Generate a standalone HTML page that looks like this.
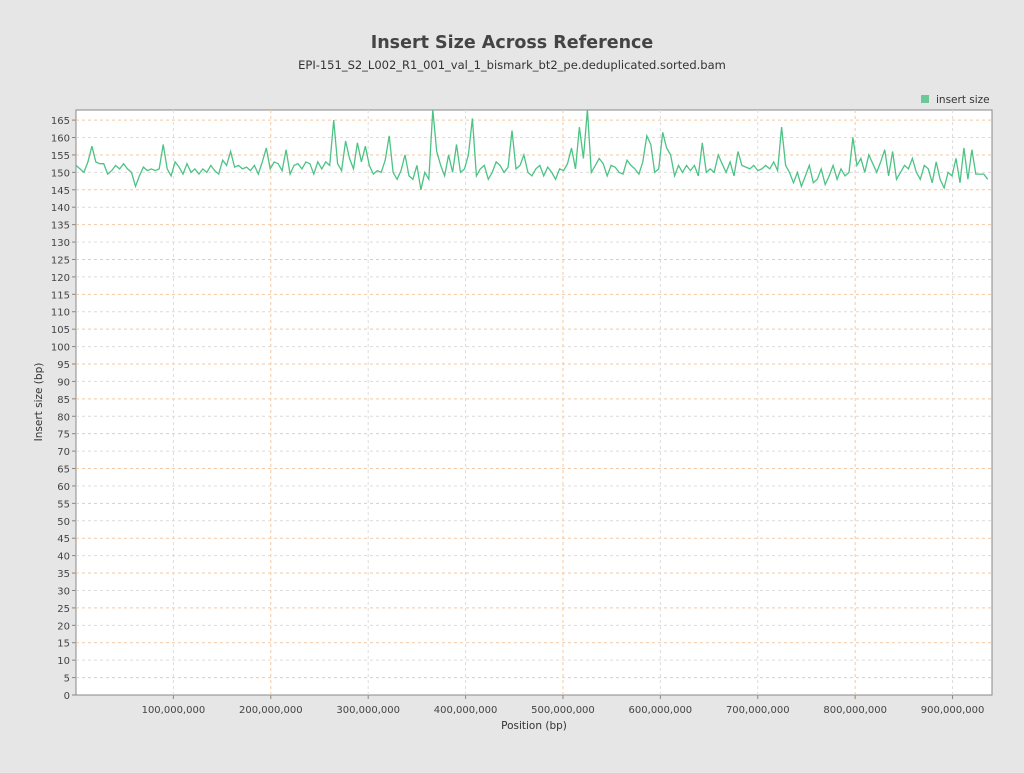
<!DOCTYPE html>
<html><head><meta charset="utf-8"><style>
body{margin:0;background:#e6e6e6;font-family:"Liberation Sans","DejaVu Sans",sans-serif;}
svg text{font-family:"DejaVu Sans","Liberation Sans",sans-serif;}
</style></head><body>
<svg id="chart" width="1024" height="768" xmlns="http://www.w3.org/2000/svg">
<defs><clipPath id="pc"><rect x="76" y="110" width="916" height="585"/></clipPath></defs>
<rect width="1024" height="768" fill="#e6e6e6"/>
<text x="512" y="48" text-anchor="middle" font-size="17.5" font-weight="bold" fill="#444">Insert Size Across Reference</text>
<text x="512" y="69" text-anchor="middle" font-size="11.5" fill="#333">EPI-151_S2_L002_R1_001_val_1_bismark_bt2_pe.deduplicated.sorted.bam</text>
<rect x="76" y="110" width="916" height="585" fill="#fff" stroke="#888"/>
<g id="grid"></g>
<g id="axes"></g>
<polyline id="line" fill="none" stroke="#4cc384" stroke-width="1.3" clip-path="url(#pc)"/>
<rect x="921" y="95" width="8" height="8" fill="#6cc89a"/>
<text x="936" y="103" font-size="10.5" fill="#333">insert size</text>
<text x="534" y="729" text-anchor="middle" font-size="10.5" fill="#333">Position (bp)</text>
<text transform="translate(42,402) rotate(-90)" text-anchor="middle" font-size="10.5" fill="#333">Insert size (bp)</text>
</svg>
<script>
const binSizeBp = 4070000;
const insertSizes = [
152,151,150,153,157.5,153,152.5,152.5,149.5,150.5,
152,151,152.5,151,150,146,149,151.5,150.5,151,
150.5,151,158,151,149,153,151.5,149.5,152.5,150,
151,149.5,151,150,152,150.5,149.5,153.5,152,156,
151.5,152,151,151.5,150.5,152,149.5,153,157,151,
153,152.5,150.5,156.5,149.5,152,152.5,151,153,152.5,
149.5,153,151,153,152,165,152.5,150.5,159,154,
151,158.5,153,157.5,152,149.5,150.5,150,153.5,160.5,
150,148,150.5,155,149,148,152,145,150,148,
168,156,152,149,155,150,158,150,151,155,
165.5,149,151,152,148,150,153,152,150,151.5,
162,151,152,155,150,149,151,152,149,151.5,
150,148,151,150.5,152.5,157,151,163,154,168,
150,152,154,152.5,149,152,151.5,150,149.5,153.5,
152,151,149.5,153,160.5,158,150,151,161.5,157,
155,149,152,150,152,150.5,152,149,158.5,150,
151,150,155,152.5,150,153,149,156,152,151.5,
151,152,150.5,151,152,151,153,150.5,163,152,
150,147,150,146,149,152,147,148,151,146.5,
149,152,148,151,149,150,160,152,154,150,
155,152.5,150,153,156.5,149,156,148,150,152,
151,154,150,148,152,151,147,153,148,145.5,
150,149,154,147,157,148,156.5,149.5,149.5,149.5,148];
const yTicks = [0,5,10,15,20,25,30,35,40,45,50,55,60,65,70,75,80,85,90,95,100,105,110,115,120,125,130,135,140,145,150,155,160,165];
const xTicks = [100000000,200000000,300000000,400000000,500000000,600000000,700000000,800000000,900000000];
const xTickLabels = ["100,000,000","200,000,000","300,000,000","400,000,000","500,000,000","600,000,000","700,000,000","800,000,000","900,000,000"];

const X0=76,X1=992,Y0=695,Y1=110,XMAX=940500000,YMAX=167.9;
const xs=v=>X0+(v/XMAX)*(X1-X0);
const ys=v=>Y0-(v/YMAX)*(Y0-Y1);
const NS="http://www.w3.org/2000/svg";
const grid=document.getElementById('grid'), axes=document.getElementById('axes');
function mk(tag,attrs,parent){const e=document.createElementNS(NS,tag);for(const k in attrs)e.setAttribute(k,attrs[k]);parent.appendChild(e);return e;}
yTicks.forEach((t,i)=>{
  const y=ys(t);
  if(t>0){const g=mk('line',{x1:X0,x2:X1,y1:y,y2:y,stroke:(i%2?'#f2c9a6':'#dcdcdc'),'stroke-dasharray':'3,3'},grid);
  
  }
  mk('line',{x1:X0-4,x2:X0,y1:y,y2:y,stroke:'#888'},axes);
  const tx=mk('text',{x:X0-6,y:y+4,'text-anchor':'end','font-size':'10',fill:'#444'},axes);
  tx.textContent=t;
  
  
});
xTicks.forEach((t,i)=>{
  const x=xs(t);
  const g=mk('line',{x1:x,x2:x,y1:Y1,y2:Y0,stroke:(i%3==1?'#f2c9a6':'#dcdcdc'),'stroke-dasharray':'3,3'},grid);
  
  
  mk('line',{x1:x,x2:x,y1:Y0,y2:Y0+4,stroke:'#888'},axes);
  const tx=mk('text',{x:x,y:Y0+18,'text-anchor':'middle','font-size':'10',fill:'#444'},axes);
  tx.textContent=xTickLabels[i];
  
  
});
document.getElementById('line').setAttribute('points',insertSizes.map((v,i)=>xs(i*binSizeBp).toFixed(1)+','+ys(v).toFixed(1)).join(' '));
</script>
</body></html>
